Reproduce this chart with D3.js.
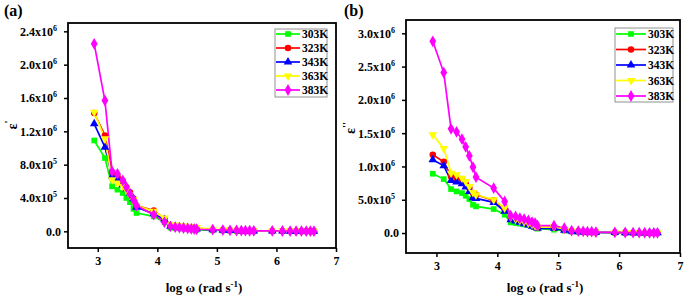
<!DOCTYPE html>
<html><head><meta charset="utf-8">
<script src="https://cdn.jsdelivr.net/npm/d3@7"></script>
<style>
body{margin:0;background:#fff;}
text{font-family:"Liberation Serif","Times New Roman",serif;font-weight:bold;}
</style></head>
<body><svg id="c" width="685" height="296"></svg>
<script>
const logW = [2.94,3.12,3.24,3.33,3.42,3.48,3.54,3.60,3.65,3.94,4.12,4.22,4.30,4.37,4.44,4.51,4.57,4.62,4.66,4.93,5.10,5.22,5.33,5.41,5.48,5.55,5.62,5.93,6.10,6.23,6.33,6.42,6.50,6.57,6.63];
const temps = ["303K","323K","343K","363K","383K"];
const colors = ["#00ff00","#ff0000","#0000ff","#ffff00","#ff00ff"];
// epsilon' (x1e6)
const epsR303 = [1.09,0.88,0.54,0.50,0.46,0.40,0.35,0.27,0.22,0.18,0.11,0.045,0.04,0.035,0.03,0.028,0.025,0.02,0.018,0.012,0.01,0.008,0.006,0.005,0.004,0.004,0.003,0.002,0.002,0.001,0.001,0.001,0.001,0.001,0.001];
const epsR323 = [1.42,1.15,0.71,0.66,0.60,0.53,0.47,0.39,0.31,0.25,0.15,0.07,0.065,0.06,0.055,0.05,0.045,0.04,0.035,0.02,0.015,0.012,0.01,0.008,0.007,0.006,0.005,0.004,0.003,0.003,0.002,0.002,0.002,0.002,0.002];
const epsR343 = [1.29,1.01,0.66,0.62,0.56,0.51,0.46,0.39,0.29,0.21,0.14,0.06,0.055,0.05,0.045,0.04,0.035,0.03,0.028,0.018,0.014,0.011,0.009,0.007,0.006,0.005,0.004,0.003,0.003,0.002,0.002,0.002,0.002,0.002,0.002];
const epsR363 = [1.43,1.11,0.62,0.58,0.54,0.50,0.44,0.38,0.31,0.24,0.16,0.08,0.075,0.07,0.065,0.06,0.055,0.05,0.045,0.025,0.018,0.014,0.011,0.009,0.008,0.007,0.006,0.004,0.003,0.003,0.003,0.002,0.002,0.002,0.002];
const epsR383 = [2.25,1.57,0.72,0.69,0.61,0.53,0.45,0.38,0.31,0.20,0.11,0.06,0.05,0.045,0.04,0.035,0.03,0.028,0.025,0.02,0.015,0.012,0.01,0.009,0.008,0.007,0.006,0.005,0.004,0.003,0.003,0.003,0.002,0.002,0.002];
// epsilon'' (x1e6)
const epsI303 = [0.89,0.81,0.66,0.625,0.60,0.56,0.51,0.425,0.40,0.36,0.275,0.16,0.15,0.14,0.13,0.12,0.10,0.09,0.065,0.05,0.035,0.02,0.015,0.012,0.01,0.009,0.008,0.005,0.004,0.003,0.003,0.002,0.002,0.002,0.002];
const epsI323 = [1.175,1.07,0.85,0.825,0.79,0.74,0.675,0.60,0.575,0.49,0.35,0.24,0.20,0.18,0.16,0.14,0.12,0.10,0.08,0.08,0.05,0.03,0.025,0.02,0.018,0.015,0.012,0.008,0.006,0.005,0.004,0.003,0.003,0.003,0.003];
const epsI343 = [1.10,1.01,0.79,0.765,0.74,0.69,0.625,0.53,0.52,0.46,0.325,0.20,0.18,0.16,0.14,0.12,0.10,0.085,0.07,0.07,0.04,0.025,0.02,0.016,0.014,0.012,0.01,0.007,0.005,0.004,0.004,0.003,0.003,0.003,0.003];
const epsI363 = [1.475,1.27,0.90,0.875,0.825,0.775,0.70,0.61,0.575,0.50,0.375,0.24,0.21,0.19,0.17,0.15,0.13,0.11,0.09,0.09,0.06,0.03,0.025,0.02,0.018,0.015,0.012,0.008,0.006,0.005,0.004,0.004,0.003,0.003,0.003];
const epsI383 = [2.88,2.41,1.565,1.52,1.41,1.295,1.16,0.99,0.84,0.675,0.475,0.26,0.25,0.225,0.21,0.19,0.165,0.15,0.11,0.11,0.075,0.035,0.03,0.025,0.02,0.02,0.015,0.01,0.008,0.006,0.005,0.005,0.004,0.004,0.004];

const xTicks = [3,4,5,6,7];
const yTicksA = [0,0.4,0.8,1.2,1.6,2.0,2.4];
const yTicksB = [0,0.5,1.0,1.5,2.0,2.5,3.0];

const svg = d3.select("#c");
const symbols = [d3.symbolSquare, d3.symbolCircle, d3.symbolTriangle, d3.symbolTriangle, d3.symbolDiamond];
const symRot = [0,0,0,180,0];
const symSize = [32,34,32,32,40];

function fmtTick(v){
  if (v===0) return {m:"0.0", e:null};
  const val = v*1e6;
  const e = Math.floor(Math.log10(val)+1e-9);
  const m = (val/Math.pow(10,e)).toFixed(1);
  return {m:m+"x10", e:String(e)};
}

function panel(cfg){
  const g = svg.append("g");
  const x = d3.scaleLinear().domain([2.5,7]).range([cfg.left,cfg.right]);
  const y = d3.scaleLinear().domain(cfg.ydom).range([cfg.bottom,cfg.top]);
  const ax = g.append("g").attr("transform",`translate(0,${cfg.bottom})`)
    .call(d3.axisBottom(x).tickValues(xTicks).tickSize(4).tickPadding(4).tickFormat(d3.format("d")));
  ax.select(".domain").remove();
  ax.selectAll("line").attr("stroke","#000").attr("stroke-width",1.5);
  ax.selectAll("text").attr("font-size",12).attr("fill","#000").attr("font-family","Liberation Serif").attr("font-weight","bold");
  const ay = g.append("g").attr("transform",`translate(${cfg.left},0)`)
    .call(d3.axisLeft(y).tickValues(cfg.yticks).tickSize(4).tickPadding(4).tickFormat(""));
  ay.select(".domain").remove();
  ay.selectAll("line").attr("stroke","#000").attr("stroke-width",1.5);
  ay.selectAll(".tick").each(function(d){
    const f = fmtTick(d);
    const t = d3.select(this).select("text").text(null)
      .attr("font-size",12).attr("fill","#000").attr("text-anchor","end")
      .attr("font-family","Liberation Serif").attr("font-weight","bold")
      .attr("x", f.e ? -11 : -7).attr("dy","0.32em");
    t.append("tspan").text(f.m);
    if (f.e){
      t.append("tspan").attr("font-size",8).attr("dy",-5).text(f.e);
    }
  });
  cfg.series.forEach((s,i)=>{
    const line = d3.line().x((d,j)=>x(logW[j])).y(d=>y(d));
    g.append("path").datum(s).attr("fill","none").attr("stroke",colors[i]).attr("stroke-width",1.7).attr("d",line);
  });
  cfg.series.forEach((s,i)=>{
    g.selectAll(null).data(s).enter().append("path")
      .attr("d", d3.symbol().type(symbols[i]).size(symSize[i]))
      .attr("transform",(d,j)=>`translate(${x(logW[j])},${y(d)}) rotate(${symRot[i]})`)
      .attr("fill",colors[i]);
  });
  g.append("rect").attr("x",cfg.left).attr("y",cfg.top).attr("width",cfg.right-cfg.left).attr("height",cfg.bottom-cfg.top)
    .attr("fill","none").attr("stroke","#000").attr("stroke-width",1.8);
  const L = cfg.legend;
  g.append("rect").attr("x",L.x).attr("y",L.y).attr("width",L.w).attr("height",L.h)
    .attr("fill","#fff").attr("stroke","#777").attr("stroke-width",0.8);
  temps.forEach((t,i)=>{
    const yy = L.y + L.first + i*L.step;
    g.append("line").attr("x1",L.x+1).attr("x2",L.x+1+L.len).attr("y1",yy).attr("y2",yy)
      .attr("stroke",colors[i]).attr("stroke-width",1.7);
    g.append("path").attr("d", d3.symbol().type(symbols[i]).size(symSize[i]))
      .attr("transform",`translate(${L.x+1+L.len/2},${yy}) rotate(${symRot[i]})`).attr("fill",colors[i]);
    g.append("text").attr("x",L.x+L.len+3).attr("y",yy).attr("dy","0.35em")
      .attr("font-size",11.5).attr("fill","#000").text(t);
  });
  g.append("text").attr("x",cfg.tagX).attr("y",16).attr("font-size",16).attr("fill","#000").text(cfg.tag);
  const xt = g.append("text").attr("x",(cfg.left+cfg.right)/2+2).attr("y",292).attr("text-anchor","middle")
    .attr("font-size",13).attr("fill","#000");
  xt.append("tspan").text("log ω (rad s");
  xt.append("tspan").attr("font-size",9).attr("dy",-5).text("-1");
  xt.append("tspan").attr("dy",5).text(")");
  const yt = g.append("text").attr("transform",`translate(${cfg.ylabX},${cfg.ylabY}) rotate(-90)`)
    .attr("text-anchor","middle").attr("font-size",14).attr("fill","#000");
  yt.append("tspan").text("ε");
  yt.append("tspan").attr("font-size",11).attr("dy",-5).text(cfg.prime);
}

panel({left:68,right:336,top:23,bottom:248,ydom:[-0.2,2.5],yticks:yTicksA,
  series:[epsR303,epsR323,epsR343,epsR363,epsR383],
  legend:{x:275,y:29,w:52,h:68,first:5,step:14,len:24},
  tag:"(a)",tagX:4,ylabX:17,ylabY:125,prime:"'"});
panel({left:406,right:680,top:20,bottom:253,ydom:[-0.3,3.2],yticks:yTicksB,
  series:[epsI303,epsI323,epsI343,epsI363,epsI383],
  legend:{x:615,y:28,w:58,h:74,first:6,step:15.5,len:30},
  tag:"(b)",tagX:344,ylabX:355,ylabY:128,prime:"''"});
</script></body></html>
